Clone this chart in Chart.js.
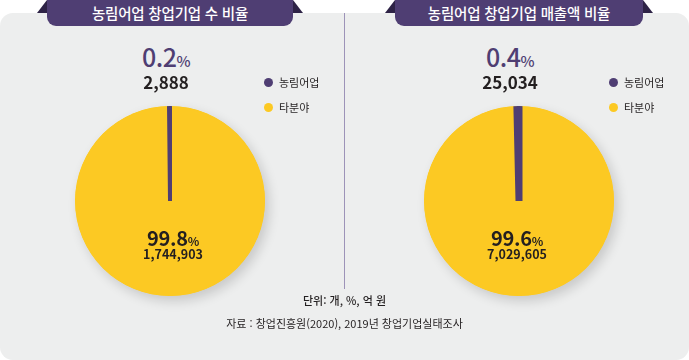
<!DOCTYPE html>
<html lang="ko">
<head>
<meta charset="utf-8">
<script src="https://cdn.jsdelivr.net/npm/chart.js@4.4.1/dist/chart.umd.min.js"></script>
<style>
  html, body { margin: 0; padding: 0; background: #fff; }
  body { width: 689px; height: 360px; position: relative; overflow: hidden;
         font-family: "Noto Sans CJK KR", "Noto Sans", sans-serif; color: #231f20; }
  .panel { position: absolute; left: 0; top: 13px; width: 689px; height: 347px;
           background: #edeeee; border-radius: 13px; }
  .tab { position: absolute; top: 0; height: 26px; background: #4f3e73; color: #fff;
         border-radius: 0 0 9px 9px; font-size: 14.5px; font-weight: 500;
         line-height: 26px; text-align: center; letter-spacing: -0.2px; }
  .fold { position: absolute; top: 0; width: 0; height: 0; border-style: solid; }
  .fold.l { border-width: 0 0 13px 10px; border-color: transparent transparent #2e2346 transparent; }
  .fold.r { border-width: 13px 0 0 10px; border-color: transparent transparent transparent #2e2346; }
  .divider { position: absolute; left: 343.5px; top: 13px; width: 1.5px; height: 276px; background: #9d93b8; }
  canvas.pie { position: absolute; }
  .lbl { position: absolute; width: 140px; text-align: center; line-height: 1; white-space: nowrap; }
  .pct { color: #4f3e73; font-size: 25px; font-weight: 500; letter-spacing: -0.5px; }
  .pct small { font-size: 15px; }
  .cnt { font-size: 17px; font-weight: 700; }
  .pct2 { font-size: 20px; font-weight: 700; letter-spacing: -0.3px; }
  .pct2 small { font-size: 12px; }
  .cnt2 { font-size: 12.5px; font-weight: 700; }
  .legend { position: absolute; font-size: 11px; color: #231f20; }
  .legend div { display: flex; align-items: center; height: 14px; margin-bottom: 11px; }
  .legend i { display: inline-block; width: 9px; height: 9px; border-radius: 50%; margin-right: 6px; }
  .note { position: absolute; left: 0; width: 689px; text-align: center; font-size: 11px; line-height: 14px; }
</style>
</head>
<body>
<div class="panel"></div>
<div class="fold l" style="left:37px"></div>
<div class="fold r" style="left:293px"></div>
<div class="tab" style="left:47px;width:246px">농림어업 창업기업 수 비율</div>
<div class="fold l" style="left:385px"></div>
<div class="fold r" style="left:643px"></div>
<div class="tab" style="left:395px;width:248px">농림어업 창업기업 매출액 비율</div>
<div class="divider"></div>

<canvas id="pie-count" class="pie" width="230" height="230" style="left:55px;top:86px"></canvas>
<canvas id="pie-sales" class="pie" width="230" height="230" style="left:404px;top:86px"></canvas>

<div id="labels"></div>

<div class="note" style="top:293px;font-weight:500">단위: 개, %, 억 원</div>
<div class="note" style="top:316px">자료 : 창업진흥원(2020), 2019년 창업기업실태조사</div>

<script>
const categories = ['농림어업', '타분야'];
const colors = ['#4f3e73', '#fcc923'];

// 창업기업 수 (개)
const countValues = [2888, 1744903];
const countShares = [0.2, 99.8];

// 창업기업 매출액 (억 원)
const salesValues = [25034, 7029605];
const salesShares = [0.4, 99.6];

const pieRadius = 95;

// soft shadow under the pie, then clip slices to the circle
const pieShadow = {
    id: 'pieShadow',
    beforeDatasetsDraw(chart) {
        const arc = chart.getDatasetMeta(0).data[0];
        if (!arc) return;
        const ctx = chart.ctx;
        ctx.save();
        ctx.shadowColor = 'rgba(0,0,0,0.16)';
        ctx.shadowBlur = 12;
        ctx.shadowOffsetX = 4;
        ctx.shadowOffsetY = 5;
        ctx.beginPath();
        ctx.arc(arc.x, arc.y, arc.outerRadius, 0, Math.PI * 2);
        ctx.fillStyle = colors[1];
        ctx.fill();
        ctx.restore();
        ctx.save();
        ctx.beginPath();
        ctx.arc(arc.x, arc.y, arc.outerRadius, 0, Math.PI * 2);
        ctx.clip();
    },
    afterDatasetsDraw(chart) {
        chart.ctx.restore();
    }
};

function makePie(id, values, sliceBorder) {
    // 타분야 first so the 농림어업 slice ends at 12 o'clock
    const pad = (230 - pieRadius * 2 - sliceBorder) / 2;
    return new Chart(document.getElementById(id), {
        type: 'pie',
        data: {
            labels: categories.slice().reverse(),
            datasets: [{
                data: values.slice().reverse(),
                backgroundColor: colors.slice().reverse(),
                borderColor: colors.slice().reverse(),
                borderWidth: [0, sliceBorder]
            }]
        },
        options: {
            responsive: false,
            animation: false,
            layout: { padding: pad },
            plugins: {
                legend: { display: false },
                tooltip: { enabled: false }
            }
        },
        plugins: [pieShadow]
    });
}

makePie('pie-count', countValues, 4);
makePie('pie-sales', salesValues, 7);

function fmt(n) {
    return n.toLocaleString('en-US');
}

function addLabel(cx, top, cls, html) {
    const el = document.createElement('div');
    el.className = 'lbl ' + cls;
    el.style.left = (cx - 70) + 'px';
    el.style.top = top + 'px';
    el.innerHTML = html;
    document.getElementById('labels').appendChild(el);
}

function addLegend(left) {
    const box = document.createElement('div');
    box.className = 'legend';
    box.style.left = left + 'px';
    box.style.top = '75px';
    categories.forEach(function (c, i) {
        const row = document.createElement('div');
        row.innerHTML = '<i style="background:' + colors[i] + '"></i>' + c;
        box.appendChild(row);
    });
    document.body.appendChild(box);
}

addLabel(166, 44, 'pct', countShares[0].toFixed(1) + '<small>%</small>');
addLabel(166, 73, 'cnt', fmt(countValues[0]));
addLabel(173, 228, 'pct2', countShares[1].toFixed(1) + '<small>%</small>');
addLabel(173, 248, 'cnt2', fmt(countValues[1]));

addLabel(510, 44, 'pct', salesShares[0].toFixed(1) + '<small>%</small>');
addLabel(510, 73, 'cnt', fmt(salesValues[0]));
addLabel(517, 228, 'pct2', salesShares[1].toFixed(1) + '<small>%</small>');
addLabel(517, 248, 'cnt2', fmt(salesValues[1]));

addLegend(264);
addLegend(609);
</script>
</body>
</html>
